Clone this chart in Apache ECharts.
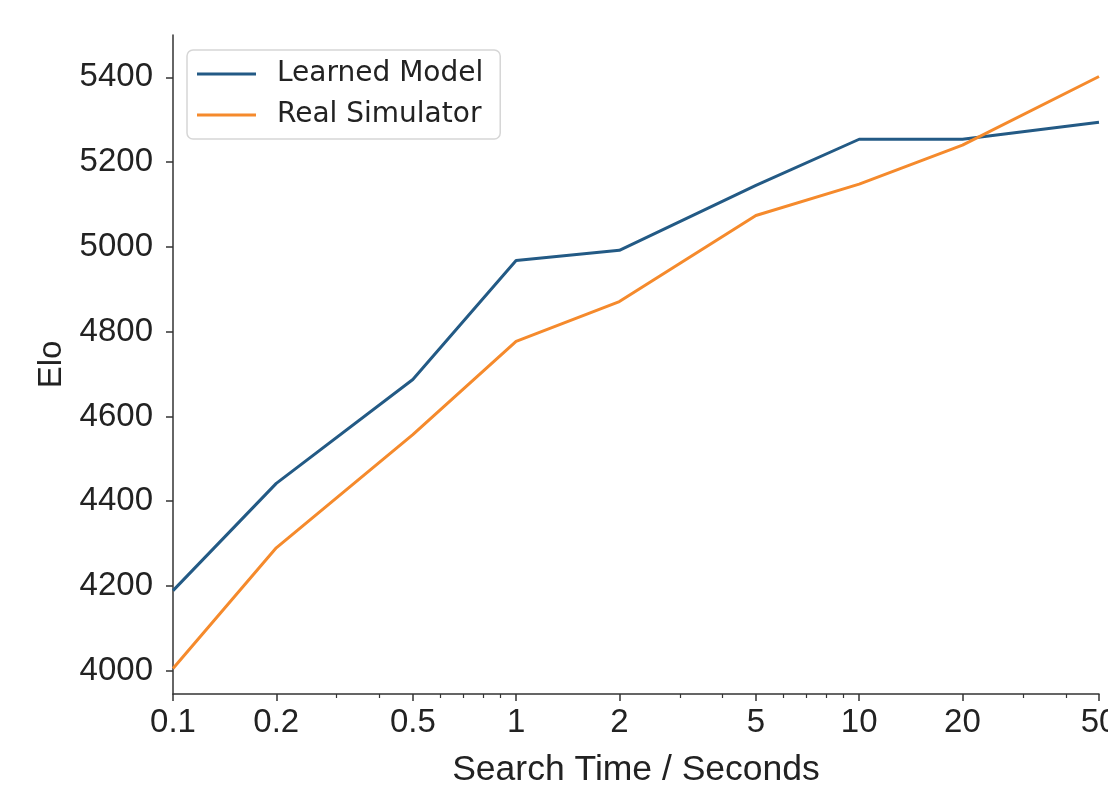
<!DOCTYPE html>
<html>
<head>
<meta charset="utf-8">
<script src="https://cdn.jsdelivr.net/npm/echarts@6/dist/echarts.min.js"></script>
<style>html,body{margin:0;padding:0;background:#fff}#c{width:1108px;height:791px}</style>
</head>
<body>
<div id="c"></div>
<script>
const searchTimes = [0.1, 0.2, 0.5, 1, 2, 5, 10, 20, 50];
const learnedModel = [4189, 4442, 4687, 4968, 4992, 5145, 5254, 5254, 5294];
const realSimulator = [4005, 4290, 4557, 4777, 4871, 5074, 5148, 5240, 5402];
const xTickLabels = [0.1, 0.2, 0.5, 1, 2, 5, 10, 20, 50];
const xMinorTicks = [0.3, 0.4, 0.6, 0.7, 0.8, 0.9, 3, 4, 6, 7, 8, 9, 30, 40];
const yTickLabels = [4000, 4200, 4400, 4600, 4800, 5000, 5200, 5400];

const axisColor = '#333';
const tickFont = {fontFamily: 'Liberation Sans, Arial, sans-serif', fontSize: 33, color: '#222'};

const chart = echarts.init(document.getElementById('c'), null, {renderer: 'canvas'});
chart.setOption({
  animation: false,
  backgroundColor: '#fff',
  grid: {left: 173, top: 35, right: 9, bottom: 97, containLabel: false, outerBoundsMode: 'none'},
  legend: {
    orient: 'vertical', left: 187, top: 50,
    padding: [9, 17, 9, 10],
    icon: 'rect',
    itemWidth: 59, itemHeight: 3, itemGap: 11,
    borderColor: '#d6d6d6', borderWidth: 1.5, borderRadius: 6,
    backgroundColor: 'rgba(255,255,255,0.8)',
    textStyle: {fontFamily: 'DejaVu Sans', fontSize: 28, color: '#222', lineHeight: 30, padding: [0, 0, 0, 16]},
    data: ['Learned Model', 'Real Simulator']
  },
  xAxis: [{
    type: 'log', logBase: 10, min: 0.1, max: 50,
    name: 'Search Time / Seconds', nameLocation: 'middle', nameGap: 58,
    nameTextStyle: {...tickFont, fontSize: 35.5},
    axisLine: {show: true, lineStyle: {color: axisColor, width: 1.5}},
    axisTick: {show: true, length: 7, inside: false, customValues: xTickLabels, lineStyle: {color: axisColor, width: 1.5}},
    axisLabel: {show: true, margin: 12, customValues: xTickLabels, ...tickFont,
      formatter: v => String(Math.round(v * 1000) / 1000)},
    splitLine: {show: false}, minorTick: {show: false}
  }, {
    type: 'log', logBase: 10, min: 0.1, max: 50, position: 'bottom',
    axisLine: {show: false},
    axisTick: {show: true, length: 4, customValues: xMinorTicks, lineStyle: {color: axisColor, width: 1.2}},
    axisLabel: {show: false},
    splitLine: {show: false}
  }],
  yAxis: {
    type: 'value', min: 3945, max: 5500,
    name: 'Elo', nameLocation: 'middle', nameGap: 98,
    nameTextStyle: tickFont,
    axisLine: {show: true, lineStyle: {color: axisColor, width: 1.5}},
    axisTick: {show: true, length: 7, customValues: yTickLabels, lineStyle: {color: axisColor, width: 1.5}},
    axisLabel: {show: true, margin: 20, customValues: yTickLabels, ...tickFont, formatter: v => String(v)},
    splitLine: {show: false}
  },
  series: [{
    name: 'Learned Model', type: 'line', xAxisIndex: 0, symbol: 'none',
    lineStyle: {color: '#235a85', width: 3}, itemStyle: {color: '#235a85'},
    data: searchTimes.map((t, i) => [t, learnedModel[i]])
  }, {
    name: 'Real Simulator', type: 'line', xAxisIndex: 0, symbol: 'none',
    lineStyle: {color: '#f58a2c', width: 3}, itemStyle: {color: '#f58a2c'},
    data: searchTimes.map((t, i) => [t, realSimulator[i]])
  }]
});
</script>
</body>
</html>
